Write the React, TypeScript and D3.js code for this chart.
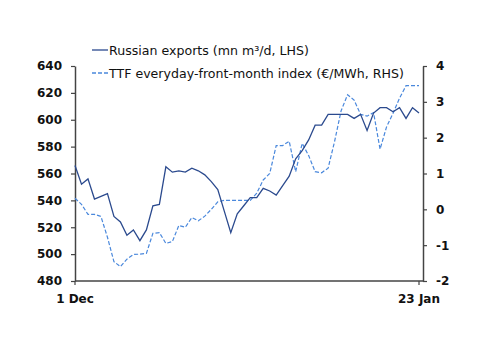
import React, { useRef, useEffect } from 'react';
import * as d3 from 'd3';

// daily observations, 1 Dec .. 23 Jan (54 days)
const startDate = new Date(2021, 11, 1);
const endDate = new Date(2022, 0, 23);

const russianExports: number[] = [
  566, 552, 556, 541, 543, 545, 528, 524, 514, 518,
  510, 518, 536, 537, 565, 561, 562, 561, 564, 562,
  559, 554, 548, 532, 516, 530, 536, 542, 542, 549,
  547, 544, 551, 558, 571, 577, 585, 596, 596, 604,
  604, 604, 604, 601, 604, 592, 605, 609, 609, 606,
  609, 601, 609, 605
];

const ttfIndex: number[] = [
  0.31, 0.14, -0.14, -0.14, -0.2, -0.78, -1.46, -1.6, -1.39, -1.26,
  -1.25, -1.23, -0.67, -0.65, -0.95, -0.9, -0.45, -0.5, -0.23, -0.32,
  -0.19, 0.0, 0.21, 0.25, 0.25, 0.25, 0.25, 0.25, 0.45, 0.82,
  1.0, 1.78, 1.78, 1.9, 1.05, 1.84, 1.5, 1.05, 1.02, 1.15,
  1.9, 2.75, 3.2, 3.05, 2.65, 2.6, 2.7, 1.68, 2.3, 2.68,
  3.1, 3.45, 3.45, 3.45
];

const leftTicks = [480, 500, 520, 540, 560, 580, 600, 620, 640];
const rightTicks = [-2, -1, 0, 1, 2, 3, 4];
const xTickDates = [startDate, endDate];
const xTickLabels = ['1 Dec', '23 Jan'];
const legendLabels = ['Russian exports (mn m³/d, LHS)', 'TTF everyday-front-month index (€/MWh, RHS)'];

const W = 500;
const H = 354;
const SOLID = '#2b4a8e';
const DASHED = '#4a88dc';
const AXIS = '#444';
const FONT = '"DejaVu Sans", Verdana, sans-serif';

const App: React.FC = () => {
  const svgRef = useRef<SVGSVGElement>(null);

  useEffect(() => {
    if (!svgRef.current) return;
    const svg = d3.select(svgRef.current);
    svg.selectAll('*').remove();

    const left = 75, right = 423, top = 66, bottom = 281;
    const dates = russianExports.map((_, i) => d3.timeDay.offset(startDate, i));

    const x = d3.scaleTime().domain([startDate, endDate]).range([left, 419]);
    const yL = d3.scaleLinear().domain([480, 640]).range([bottom, top]);
    const yR = d3.scaleLinear().domain([-2, 4]).range([bottom, top]);

    // axes
    const axL = svg.append('g').attr('transform', `translate(${left},0)`)
      .call(d3.axisLeft(yL).tickValues(leftTicks).tickSize(4).tickSizeOuter(0).tickPadding(9));
    const axR = svg.append('g').attr('transform', `translate(${right},0)`)
      .call(d3.axisRight(yR).tickValues(rightTicks).tickSize(4).tickSizeOuter(0).tickPadding(9)
        .tickFormat(d => String(d)));
    const axB = svg.append('g').attr('transform', `translate(0,${bottom})`);
    axB.append('line').attr('x1', left).attr('x2', right).attr('y1', 0).attr('y2', 0)
      .attr('stroke', AXIS).attr('stroke-width', 1.5);
    xTickDates.forEach((d, i) => {
      axB.append('line').attr('x1', x(d)).attr('x2', x(d)).attr('y1', 0).attr('y2', 4)
        .attr('stroke', AXIS).attr('stroke-width', 1.2);
      axB.append('text').attr('x', x(d)).attr('y', 22).attr('text-anchor', 'middle')
        .text(xTickLabels[i]);
    });

    [axL, axR].forEach(ax => {
      ax.select('.domain').attr('stroke', AXIS).attr('stroke-width', 1.5);
      ax.selectAll('.tick line').attr('stroke', AXIS).attr('stroke-width', 1.2);
    });
    svg.selectAll('text')
      .attr('font-family', FONT).attr('font-size', 12).attr('font-weight', 'bold').attr('fill', '#111');

    // lines
    const lineL = d3.line<number>().x((_, i) => x(dates[i])).y(d => yL(d));
    const lineR = d3.line<number>().x((_, i) => x(dates[i])).y(d => yR(d));

    svg.append('path').datum(ttfIndex).attr('d', lineR).attr('fill', 'none')
      .attr('stroke', DASHED).attr('stroke-width', 1.2).attr('stroke-dasharray', '4,2');
    svg.append('path').datum(russianExports).attr('d', lineL).attr('fill', 'none')
      .attr('stroke', SOLID).attr('stroke-width', 1.3);

    // legend
    const lg = svg.append('g');
    legendLabels.forEach((label, i) => {
      const yy = 50 + i * 23;
      lg.append('line').attr('x1', 92).attr('x2', 108).attr('y1', yy).attr('y2', yy)
        .attr('stroke', i === 0 ? SOLID : DASHED).attr('stroke-width', 1.3)
        .attr('stroke-dasharray', i === 0 ? null : '4,2');
      lg.append('text').attr('x', 109).attr('y', yy + 4.5)
        .attr('font-family', FONT).attr('font-size', 12.6).attr('fill', '#111')
        .text(label);
    });
  }, []);

  return (
    <svg ref={svgRef} width={W} height={H} viewBox={`0 0 ${W} ${H}`}
      style={{ position: 'absolute', left: 0, top: 0, background: '#fff' }} />
  );
};

export default App;
